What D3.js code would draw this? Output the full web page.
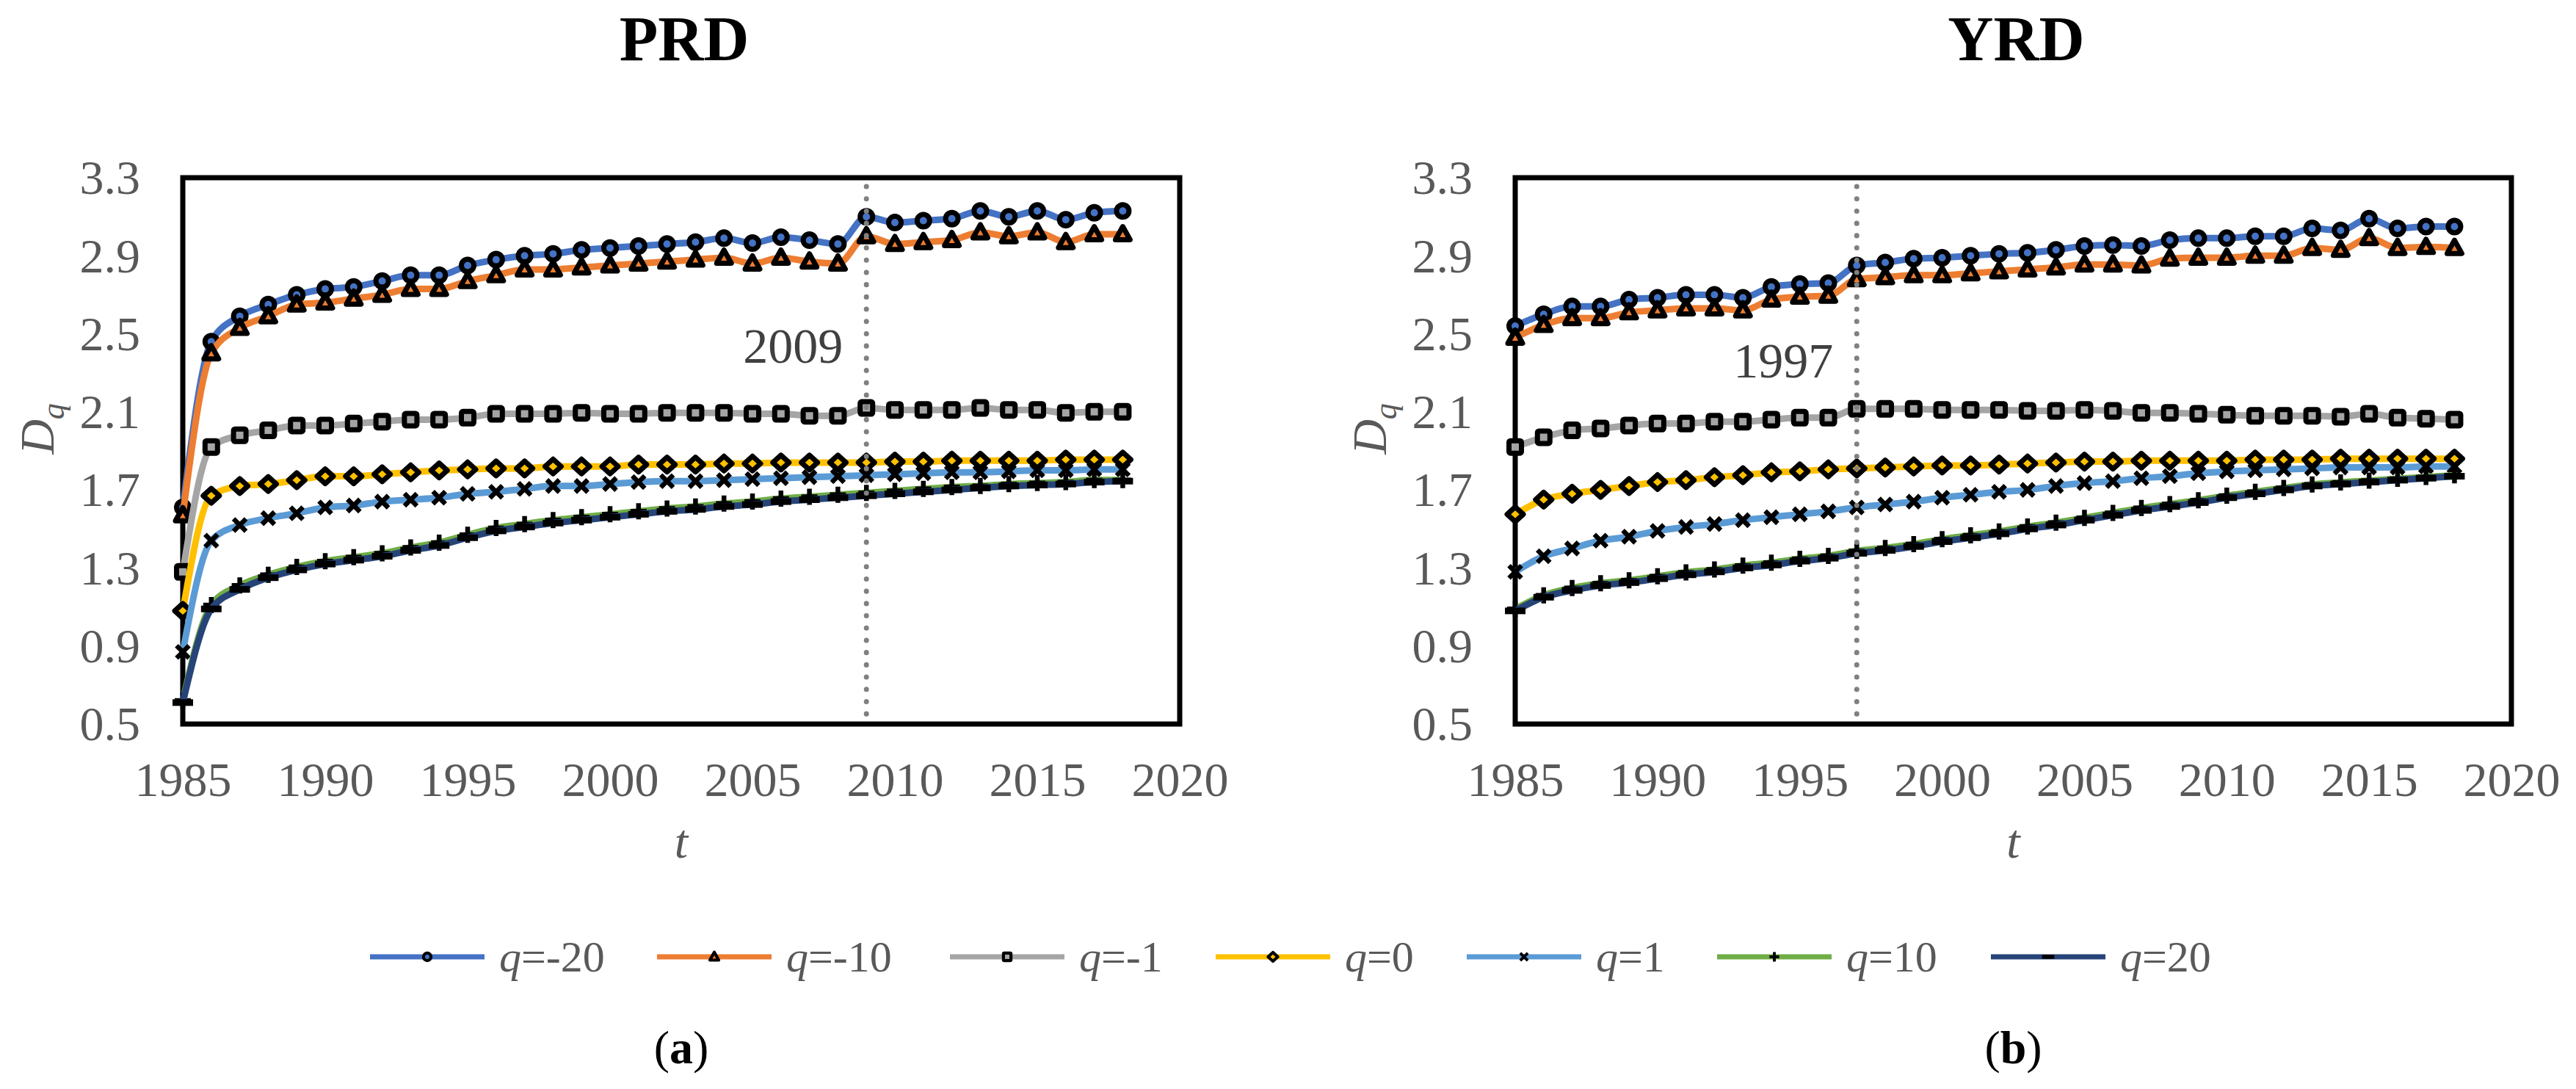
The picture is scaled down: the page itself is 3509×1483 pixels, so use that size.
<!DOCTYPE html>
<html>
<head>
<meta charset="utf-8">
<script src="https://cdn.jsdelivr.net/npm/d3@7/dist/d3.min.js"></script>
<style>
  html, body { margin: 0; padding: 0; background: #fff; }
  svg { display: block; }
  text { font-family: "Liberation Serif", "Times New Roman", serif; }
</style>
</head>
<body>
<svg id="chart" width="3509" height="1483"></svg>
<script>
// ---------------- DATA ----------------
const years = d3.range(1985, 2019);
const qLabels = ["-20", "-10", "-1", "0", "1", "10", "20"];
const xTicks = [1985, 1990, 1995, 2000, 2005, 2010, 2015, 2020];
const yTicks = [0.5, 0.9, 1.3, 1.7, 2.1, 2.5, 2.9, 3.3];
const panelTitles = ["PRD", "YRD"];
const panelLetters = ["a", "b"];
const markYears = [2009, 1997];

// PRD series (1985-2018)
const prd_qm20 = [1.61, 2.46, 2.59, 2.65, 2.70, 2.73, 2.74, 2.77, 2.80, 2.80, 2.85, 2.88, 2.90, 2.91, 2.93, 2.94, 2.95, 2.96, 2.97, 2.99, 2.965, 2.995, 2.98, 2.96, 3.10, 3.07, 3.08, 3.09, 3.13, 3.10, 3.13, 3.085, 3.12, 3.13];
const prd_qm10 = [1.57, 2.40, 2.53, 2.59, 2.65, 2.66, 2.68, 2.70, 2.73, 2.73, 2.77, 2.80, 2.83, 2.83, 2.84, 2.85, 2.86, 2.87, 2.88, 2.89, 2.86, 2.89, 2.87, 2.86, 3.00, 2.96, 2.97, 2.98, 3.02, 3.00, 3.02, 2.97, 3.01, 3.01];
const prd_qm1  = [1.28, 1.92, 1.98, 2.005, 2.03, 2.03, 2.04, 2.05, 2.06, 2.06, 2.07, 2.09, 2.09, 2.09, 2.095, 2.09, 2.09, 2.095, 2.095, 2.095, 2.09, 2.09, 2.08, 2.08, 2.12, 2.11, 2.11, 2.11, 2.12, 2.11, 2.11, 2.095, 2.10, 2.10];
const prd_q0   = [1.08, 1.67, 1.72, 1.73, 1.75, 1.77, 1.77, 1.78, 1.79, 1.80, 1.805, 1.81, 1.81, 1.82, 1.82, 1.82, 1.83, 1.83, 1.83, 1.835, 1.835, 1.84, 1.84, 1.84, 1.84, 1.845, 1.845, 1.85, 1.85, 1.85, 1.85, 1.855, 1.855, 1.855];
const prd_q1   = [0.87, 1.44, 1.52, 1.555, 1.58, 1.61, 1.62, 1.64, 1.65, 1.66, 1.68, 1.69, 1.705, 1.72, 1.72, 1.73, 1.74, 1.745, 1.745, 1.75, 1.755, 1.76, 1.765, 1.77, 1.775, 1.78, 1.785, 1.79, 1.79, 1.795, 1.80, 1.80, 1.805, 1.805];
const prd_q10  = [0.62, 1.11, 1.21, 1.265, 1.305, 1.335, 1.355, 1.375, 1.405, 1.43, 1.47, 1.505, 1.525, 1.545, 1.56, 1.575, 1.59, 1.605, 1.615, 1.63, 1.64, 1.655, 1.665, 1.675, 1.685, 1.695, 1.705, 1.715, 1.72, 1.73, 1.735, 1.74, 1.75, 1.75];
const prd_q20  = [0.61, 1.09, 1.19, 1.25, 1.29, 1.32, 1.34, 1.36, 1.39, 1.415, 1.455, 1.49, 1.51, 1.53, 1.545, 1.56, 1.575, 1.59, 1.60, 1.615, 1.625, 1.64, 1.65, 1.66, 1.67, 1.68, 1.69, 1.70, 1.71, 1.72, 1.725, 1.73, 1.74, 1.745];

// YRD series (1985-2018)
const yrd_qm20 = [2.54, 2.60, 2.64, 2.64, 2.675, 2.685, 2.70, 2.70, 2.685, 2.74, 2.755, 2.76, 2.85, 2.865, 2.885, 2.89, 2.90, 2.91, 2.915, 2.93, 2.95, 2.955, 2.95, 2.98, 2.99, 2.99, 3.00, 3.00, 3.04, 3.03, 3.09, 3.04, 3.05, 3.05];
const yrd_qm10 = [2.48, 2.545, 2.58, 2.58, 2.61, 2.62, 2.63, 2.63, 2.62, 2.675, 2.69, 2.695, 2.78, 2.79, 2.80, 2.80, 2.81, 2.82, 2.83, 2.84, 2.855, 2.855, 2.85, 2.885, 2.89, 2.89, 2.90, 2.90, 2.94, 2.93, 2.99, 2.94, 2.945, 2.94];
const yrd_qm1  = [1.92, 1.97, 2.005, 2.015, 2.03, 2.04, 2.04, 2.05, 2.05, 2.06, 2.07, 2.07, 2.115, 2.115, 2.115, 2.11, 2.11, 2.11, 2.105, 2.105, 2.11, 2.105, 2.095, 2.095, 2.09, 2.085, 2.08, 2.08, 2.08, 2.075, 2.09, 2.07, 2.065, 2.06];
const yrd_q0   = [1.575, 1.65, 1.68, 1.70, 1.72, 1.74, 1.75, 1.765, 1.775, 1.79, 1.795, 1.805, 1.81, 1.815, 1.82, 1.825, 1.825, 1.83, 1.835, 1.84, 1.845, 1.845, 1.85, 1.85, 1.85, 1.85, 1.855, 1.855, 1.855, 1.86, 1.86, 1.86, 1.86, 1.86];
const yrd_q1   = [1.28, 1.36, 1.40, 1.44, 1.46, 1.49, 1.51, 1.525, 1.545, 1.56, 1.575, 1.59, 1.61, 1.625, 1.64, 1.66, 1.675, 1.69, 1.70, 1.72, 1.735, 1.745, 1.76, 1.77, 1.785, 1.795, 1.80, 1.805, 1.81, 1.815, 1.815, 1.815, 1.82, 1.82];
const yrd_q10  = [1.09, 1.16, 1.197, 1.222, 1.237, 1.257, 1.277, 1.292, 1.312, 1.327, 1.347, 1.362, 1.387, 1.402, 1.422, 1.447, 1.467, 1.487, 1.512, 1.532, 1.557, 1.582, 1.607, 1.627, 1.647, 1.67, 1.69, 1.71, 1.728, 1.738, 1.748, 1.757, 1.766, 1.775];
const yrd_q20  = [1.08, 1.15, 1.185, 1.21, 1.225, 1.245, 1.265, 1.28, 1.30, 1.315, 1.335, 1.35, 1.375, 1.39, 1.41, 1.435, 1.455, 1.475, 1.50, 1.52, 1.545, 1.57, 1.595, 1.615, 1.635, 1.66, 1.68, 1.70, 1.72, 1.73, 1.74, 1.75, 1.76, 1.77];

const panelSeries = [
  [prd_qm20, prd_qm10, prd_qm1, prd_q0, prd_q1, prd_q10, prd_q20],
  [yrd_qm20, yrd_qm10, yrd_qm1, yrd_q0, yrd_q1, yrd_q10, yrd_q20]
];

// ---------------- STYLE ----------------
const colors = ["#4472C4", "#ED7D31", "#A5A5A5", "#FFC000", "#5B9BD5", "#70AD47", "#264478"];
const markerTypes = ["circle", "triangle", "square", "diamond", "x", "plus", "dash"];
const gray = "#595959";

const svg = d3.select("#chart");

function drawMarker(g, type, cx, cy, fill, s) {
  const sw = 7 * s;
  if (type === "circle") {
    g.append("circle").attr("cx", cx).attr("cy", cy).attr("r", 8.5 * s)
      .attr("fill", fill).attr("stroke", "#000").attr("stroke-width", sw);
  } else if (type === "triangle") {
    const h = 10 * s;
    g.append("path").attr("d", `M${cx},${cy - h * 1.05} L${cx + h},${cy + h * 0.75} L${cx - h},${cy + h * 0.75} Z`)
      .attr("fill", fill).attr("stroke", "#000").attr("stroke-width", sw).attr("stroke-linejoin", "round");
  } else if (type === "square") {
    const h = 8.5 * s;
    g.append("rect").attr("x", cx - h).attr("y", cy - h).attr("width", 2 * h).attr("height", 2 * h)
      .attr("rx", 2 * s)
      .attr("fill", fill).attr("stroke", "#000").attr("stroke-width", sw);
  } else if (type === "diamond") {
    const h = 10 * s;
    g.append("path").attr("d", `M${cx},${cy - h} L${cx + h * 1.1},${cy} L${cx},${cy + h} L${cx - h * 1.1},${cy} Z`)
      .attr("fill", fill).attr("stroke", "#000").attr("stroke-width", sw).attr("stroke-linejoin", "round");
  } else if (type === "x") {
    const h = 8.5 * s;
    g.append("path").attr("d", `M${cx - h},${cy - h} L${cx + h},${cy + h} M${cx + h},${cy - h} L${cx - h},${cy + h}`)
      .attr("stroke", "#000").attr("stroke-width", 6.5 * s).attr("fill", "none");
  } else if (type === "plus") {
    const h = 11 * s;
    g.append("path").attr("d", `M${cx - h},${cy} L${cx + h},${cy} M${cx},${cy - h} L${cx},${cy + h}`)
      .attr("stroke", "#000").attr("stroke-width", 6.5 * s).attr("fill", "none");
  } else if (type === "dash") {
    const h = 14 * s;
    g.append("path").attr("d", `M${cx - h},${cy} L${cx + h},${cy}`)
      .attr("stroke", "#000").attr("stroke-width", 9 * s).attr("fill", "none");
  }
}

const panels = [
  { left: 249, right: 1607 },
  { left: 2064, right: 3421 }
];
const plotTop = 242, plotBottom = 986;

panels.forEach((p, pi) => {
  const g = svg.append("g");
  const x = d3.scaleLinear().domain([1985, 2020]).range([p.left, p.right]);
  const y = d3.scaleLinear().domain([0.5, 3.3]).range([plotBottom, plotTop]);

  g.append("text").attr("x", (p.left + p.right) / 2 + 4).attr("y", 82)
    .attr("text-anchor", "middle").attr("font-size", 86).attr("font-weight", "bold")
    .attr("fill", "#000").text(panelTitles[pi]);

  g.append("rect").attr("x", p.left).attr("y", plotTop)
    .attr("width", p.right - p.left).attr("height", plotBottom - plotTop)
    .attr("fill", "none").attr("stroke", "#000").attr("stroke-width", 7);

  const yAxis = d3.axisLeft(y).tickValues(yTicks).tickFormat(d3.format(".1f")).tickSize(0).tickPadding(58);
  const ya = g.append("g").attr("transform", `translate(${p.left},0)`).call(yAxis);
  ya.select(".domain").remove();
  ya.selectAll("text").attr("font-size", 66).attr("fill", gray)
    .attr("font-family", "Liberation Serif").attr("dy", "0.33em");

  const xAxis = d3.axisBottom(x).tickValues(xTicks).tickFormat(d3.format("d")).tickSize(0).tickPadding(98);
  const xa = g.append("g").attr("transform", `translate(0,${plotBottom})`).call(xAxis);
  xa.select(".domain").remove();
  xa.selectAll("text").attr("font-size", 66).attr("fill", gray)
    .attr("font-family", "Liberation Serif").attr("dy", "0");

  const yt = g.append("text")
    .attr("transform", `translate(${p.left - 176},584) rotate(-90)`)
    .attr("text-anchor", "middle").attr("fill", gray).attr("font-size", 66)
    .attr("font-style", "italic");
  yt.append("tspan").text("D");
  yt.append("tspan").attr("font-size", 44).attr("dy", 14).text("q");

  g.append("text").attr("x", (p.left + p.right) / 2).attr("y", 1168)
    .attr("text-anchor", "middle").attr("fill", gray).attr("font-size", 66)
    .attr("font-style", "italic").text("t");

  const line = d3.line().x((d, i) => x(years[i])).y(d => y(d)).curve(d3.curveMonotoneX);
  panelSeries[pi].forEach((vals, si) => {
    const sg = g.append("g");
    sg.append("path").datum(vals).attr("d", line)
      .attr("fill", "none").attr("stroke", colors[si]).attr("stroke-width", 9)
      .attr("stroke-linejoin", "round").attr("stroke-linecap", "round");
    vals.forEach((v, i) => drawMarker(sg, markerTypes[si], x(years[i]), y(v), colors[si], 1));
  });

  const mx = x(markYears[pi]);
  g.append("line").attr("x1", mx).attr("x2", mx).attr("y1", plotTop + 12).attr("y2", plotBottom)
    .attr("stroke", "#808080").attr("stroke-width", 7)
    .attr("stroke-dasharray", "0.1 16.6").attr("stroke-linecap", "round");
  g.append("text").attr("x", mx - 100).attr("y", pi === 0 ? 494 : 514)
    .attr("text-anchor", "middle").attr("fill", "#404040").attr("font-size", 68)
    .text(String(markYears[pi]));

  const lt = g.append("text").attr("x", (p.left + p.right) / 2).attr("y", 1448)
    .attr("text-anchor", "middle").attr("fill", "#000").attr("font-size", 64);
  lt.append("tspan").text("(");
  lt.append("tspan").attr("font-weight", "bold").text(panelLetters[pi]);
  lt.append("tspan").text(")");
});

const legendLineX = [504, 895, 1294, 1656, 1998, 2339, 2712];
const legendY = 1303;
qLabels.forEach((q, i) => {
  const lg = svg.append("g");
  const x0 = legendLineX[i];
  lg.append("line").attr("x1", x0).attr("x2", x0 + 156).attr("y1", legendY).attr("y2", legendY)
    .attr("stroke", colors[i]).attr("stroke-width", 7);
  drawMarker(lg, markerTypes[i], x0 + 78, legendY, colors[i], 0.6);
  const t = lg.append("text").attr("x", x0 + 176).attr("y", legendY + 20)
    .attr("fill", gray).attr("font-size", 60);
  t.append("tspan").attr("font-style", "italic").text("q");
  t.append("tspan").text("=" + q);
});
</script>
</body>
</html>
